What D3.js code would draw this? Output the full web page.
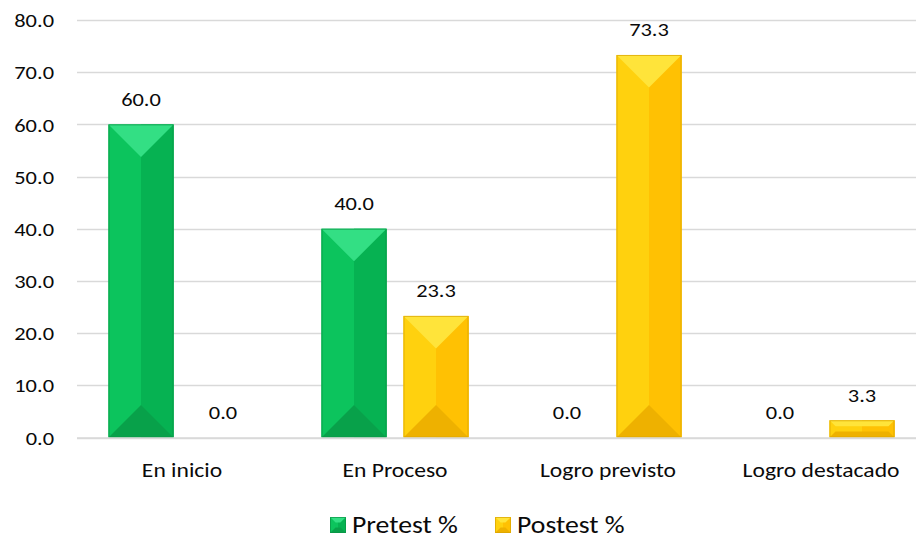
<!DOCTYPE html>
<html>
<head>
<meta charset="utf-8">
<script src="https://cdn.jsdelivr.net/npm/d3@7"></script>
<style>
  html, body { margin: 0; padding: 0; background: #fff; }
  svg { display: block; }
  text { font-family: Carlito, Lato, "Liberation Sans", sans-serif; fill: #0a0a0a; }
</style>
</head>
<body>
<svg id="chart" width="916" height="539"></svg>
<script>
// Achievement levels and the share of students (%) in each, before and after
const categories = ["En inicio", "En Proceso", "Logro previsto", "Logro destacado"];
const seriesNames = ["Pretest %", "Postest %"];
const pretest = [60.0, 40.0, 0.0, 0.0];
const postest = [0.0, 23.3, 73.3, 3.3];
const yTicks = [0, 10, 20, 30, 40, 50, 60, 70, 80];

// Bevel palettes: top, left, right, bottom faces and outline
const palettes = {
  "Pretest %": { top: "#33df84", left: "#0cc45d", right: "#06b252", bottom: "#08a14a", stroke: "#0a9446" },
  "Postest %": { top: "#ffe43a", left: "#ffd10e", right: "#ffc103", bottom: "#eeb100", stroke: "#d9a300" }
};

// Text is set slightly wide, as in the original typeface
const SX = 1.18;
const FONT = "Carlito, Lato, 'Liberation Sans', sans-serif";

const svg = d3.select("#chart");
const W = 916;

const y = d3.scaleLinear().domain([0, 80]).range([437.5, 20]);
const x0 = d3.scaleBand().domain(categories).range([75.5, 927.5])
  .paddingInner(66 / 213).paddingOuter(33 / 213);
const x1 = d3.scaleBand().domain(seriesNames).range([0, x0.bandwidth()])
  .paddingInner(17 / 82).paddingOuter(0);

// Value axis labels
const yAxis = d3.axisLeft(y).tickValues(yTicks).tickSize(0).tickPadding(0)
  .tickFormat(d3.format(".1f"));
const gy = svg.append("g").attr("transform", "translate(54,0)").call(yAxis);
gy.select(".domain").remove();
gy.selectAll("text").attr("font-size", 19).attr("dy", "0.35em").attr("x", 0)
  .attr("transform", `scale(${SX},1)`)
  .style("font-family", FONT).attr("fill", "#0a0a0a");

// Horizontal gridlines
svg.append("g").selectAll("line").data(yTicks).join("line")
  .attr("x1", 77).attr("x2", W)
  .attr("y1", d => Math.round(y(d)) + 0.5).attr("y2", d => Math.round(y(d)) + 0.5)
  .attr("stroke", "#d9d9d9").attr("stroke-width", 1.3);

// Category labels
const xAxis = d3.axisBottom(x0).tickSize(0).tickPadding(0);
const gx = svg.append("g").attr("transform", "translate(0,476.5)").call(xAxis);
gx.select(".domain").remove();
gx.selectAll("text").attr("font-size", 20).attr("dy", 0).attr("y", 0)
  .attr("transform", `scale(${SX},1)`)
  .style("font-family", FONT).attr("fill", "#0a0a0a");

// Draws a bevelled bar as four faces
function bevelBar(g, bx, by, w, h, pal) {
  if (h <= 0) return;
  const b = Math.min(w / 2, h * 0.35);
  const pts = arr => arr.map(p => p.join(",")).join(" ");
  const x2 = bx + w, y2 = by + h;
  g.append("rect").attr("x", bx).attr("y", by).attr("width", w).attr("height", h)
    .attr("fill", pal.left);
  g.append("polygon").attr("points", pts([[bx + w / 2, by], [x2, by], [x2, y2], [bx + w / 2, y2]]))
    .attr("fill", pal.right);
  g.append("polygon").attr("points", pts([[bx, by], [bx + b, by + b], [bx + b, y2 - b], [bx, y2]]))
    .attr("fill", pal.left);
  g.append("polygon").attr("points", pts([[x2, by], [x2 - b, by + b], [x2 - b, y2 - b], [x2, y2]]))
    .attr("fill", pal.right);
  g.append("polygon").attr("points", pts([[bx, by], [x2, by], [x2 - b, by + b], [bx + b, by + b]]))
    .attr("fill", pal.top);
  g.append("polygon").attr("points", pts([[bx, y2], [x2, y2], [x2 - b, y2 - b], [bx + b, y2 - b]]))
    .attr("fill", pal.bottom);
  g.append("rect").attr("x", bx + 0.5).attr("y", by + 0.5).attr("width", w - 1).attr("height", h - 1)
    .attr("fill", "none").attr("stroke", pal.stroke).attr("stroke-width", 1).attr("opacity", 0.7);
}

// Text helper: positioned by translate so the horizontal widening keeps the anchor
function wideText(g, tx, ty, size, anchor, str) {
  return g.append("text")
    .attr("transform", `translate(${tx},${ty}) scale(${SX},1)`)
    .attr("text-anchor", anchor)
    .attr("font-size", size)
    .text(str);
}

const rows = categories.map((c, i) => ({ cat: c, values: [
  { name: seriesNames[0], v: pretest[i] },
  { name: seriesNames[1], v: postest[i] }
] }));

const groups = svg.append("g").selectAll("g").data(rows).join("g")
  .attr("transform", d => `translate(${x0(d.cat)},0)`);

groups.each(function (d) {
  const g = d3.select(this);
  d.values.forEach(s => {
    bevelBar(g, x1(s.name), y(s.v), x1.bandwidth(), y(0) - y(s.v), palettes[s.name]);
    wideText(g, x1(s.name) + x1.bandwidth() / 2, y(s.v) - 18.5, 19, "middle",
      d3.format(".1f")(s.v));
  });
});

// Baseline
svg.append("line").attr("x1", 77).attr("x2", W).attr("y1", 438).attr("y2", 438)
  .attr("stroke", "#d9d9d9").attr("stroke-width", 1.5);

// Legend
const legendItems = [
  { name: seriesNames[0], x: 330 },
  { name: seriesNames[1], x: 495 }
];
const lg = svg.append("g");
legendItems.forEach(it => {
  const g = lg.append("g");
  bevelBar(g, it.x, 517, 16, 16, palettes[it.name]);
  wideText(g, it.x + 22, 533, 23.5, "start", it.name);
});
</script>
</body>
</html>
